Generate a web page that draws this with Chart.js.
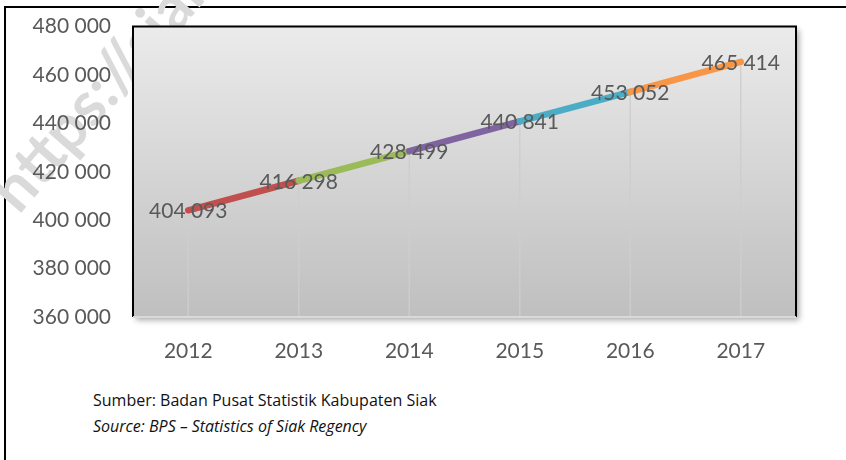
<!DOCTYPE html>
<html lang="id">
<head>
<meta charset="UTF-8">
<title>Penduduk Kabupaten Siak</title>
<script src="https://cdn.jsdelivr.net/npm/chart.js@4"></script>
<style>
    body{
        margin: 0;
        background: #fff;
        font-family: Lato, 'Open Sans', sans-serif;
    }
    .wrap{
        position: relative;
        width: 846px;
        height: 460px;
        overflow: hidden;
    }
    .frame{
        position: absolute;
        left: 4px;
        top: 6px;
        width: 860px;
        height: 470px;
        border-left: 2px solid #000;
        border-top: 2px solid #000;
    }
    .mark{
        position: absolute;
        left: -18px;
        top: 150px;
        font-size: 62px;
        line-height: 62px;
        font-weight: bold;
        color: #dadada;
        transform-origin: 0 100%;
        transform: translate(42px, 8px) rotate(-49deg);
        white-space: nowrap;
    }
    canvas{
        position: absolute;
        left: 0;
        top: 0;
    }
    .src{
        position: absolute;
        left: 93px;
        font-family: 'Open Sans', sans-serif;
        font-size: 16px;
        color: #111;
    }
</style>
</head>
<body>
<div class="wrap">
    <div class="frame"></div>
    <div class="mark">https://siak</div>
    <canvas id="chart" width="846" height="380"></canvas>
    <div class="src" style="top: 389px;">Sumber: Badan Pusat Statistik Kabupaten Siak</div>
    <div class="src" style="top: 415px; font-style: italic;">Source: BPS &ndash; Statistics of Siak Regency</div>
</div>
<script>
const years = ['2012', '2013', '2014', '2015', '2016', '2017'];
const population = [404093, 416298, 428499, 440841, 453052, 465414];
const segColors = ['#c0504d', '#9bbb59', '#8064a2', '#4bacc6', '#f79646'];
const yTicks = [360000, 380000, 400000, 420000, 440000, 460000, 480000];

const fmt = (n) => String(n).replace(/\B(?=(\d{3})+(?!\d))/g, ' ');
const txtColor = '#595959';
const font = 'Lato, "Open Sans", sans-serif';

// plot background, frame and drop lines
const plotBg = {
    id: 'plotBg',
    beforeDatasetsDraw(chart) {
        const {ctx, chartArea: a} = chart;
        ctx.save();
        ctx.shadowColor = 'rgba(0,0,0,0.35)';
        ctx.shadowBlur = 6;
        ctx.shadowOffsetX = 3;
        ctx.shadowOffsetY = 3;
        const g = ctx.createLinearGradient(0, a.top, 0, a.bottom);
        g.addColorStop(0, '#ebebeb');
        g.addColorStop(1, '#bfbfbf');
        ctx.fillStyle = g;
        ctx.fillRect(a.left, a.top, a.width, a.height);
        ctx.restore();

        ctx.save();
        // drop lines
        ctx.strokeStyle = 'rgba(205,205,205,0.9)';
        ctx.lineWidth = 1.5;
        chart.getDatasetMeta(0).data.forEach(p => {
            ctx.beginPath();
            ctx.moveTo(p.x, p.y);
            ctx.lineTo(p.x, a.bottom);
            ctx.stroke();
        });
        // frame
        ctx.strokeStyle = '#000';
        ctx.lineWidth = 2;
        ctx.beginPath();
        ctx.moveTo(a.left, a.bottom);
        ctx.lineTo(a.left, a.top);
        ctx.lineTo(a.right, a.top);
        ctx.lineTo(a.right, a.bottom);
        ctx.stroke();
        ctx.strokeStyle = '#d9d9d9';
        ctx.beginPath();
        ctx.moveTo(a.left, a.bottom);
        ctx.lineTo(a.right, a.bottom);
        ctx.stroke();
        ctx.restore();
    }
};

// value labels centred on the points
const valueLabels = {
    id: 'valueLabels',
    afterDatasetsDraw(chart) {
        const ctx = chart.ctx;
        ctx.save();
        ctx.font = '21px ' + font;
        ctx.fillStyle = txtColor;
        ctx.textAlign = 'center';
        ctx.textBaseline = 'middle';
        chart.getDatasetMeta(0).data.forEach((p, i) => {
            ctx.fillText(fmt(population[i]), p.x, p.y + 1);
        });
        ctx.restore();
    }
};

new Chart(document.getElementById('chart'), {
    type: 'line',
    data: {
        labels: years,
        datasets: [{
            data: population,
            borderWidth: 6.5,
            borderCapStyle: 'round',
            borderJoinStyle: 'round',
            pointRadius: 0,
            tension: 0,
            segment: {
                borderColor: c => segColors[c.p0DataIndex]
            }
        }]
    },
    options: {
        responsive: false,
        animation: false,
        layout: {padding: {top: 13, right: 50, left: 0, bottom: 0}},
        plugins: {
            legend: {display: false},
            tooltip: {enabled: false}
        },
        scales: {
            x: {
                offset: true,
                grid: {display: false},
                border: {display: false},
                ticks: {
                    color: txtColor,
                    font: {family: font, size: 21},
                    padding: 14
                },
                afterFit: s => { s.height = 63; }
            },
            y: {
                min: 360000,
                max: 480000,
                afterBuildTicks: s => { s.ticks = yTicks.map(v => ({value: v})); },
                grid: {display: false},
                border: {display: false},
                ticks: {
                    color: txtColor,
                    font: {family: font, size: 21},
                    padding: 14,
                    callback: v => fmt(v)
                },
                afterFit: s => { s.width = 133; }
            }
        }
    },
    plugins: [plotBg, valueLabels]
});
</script>
</body>
</html>
